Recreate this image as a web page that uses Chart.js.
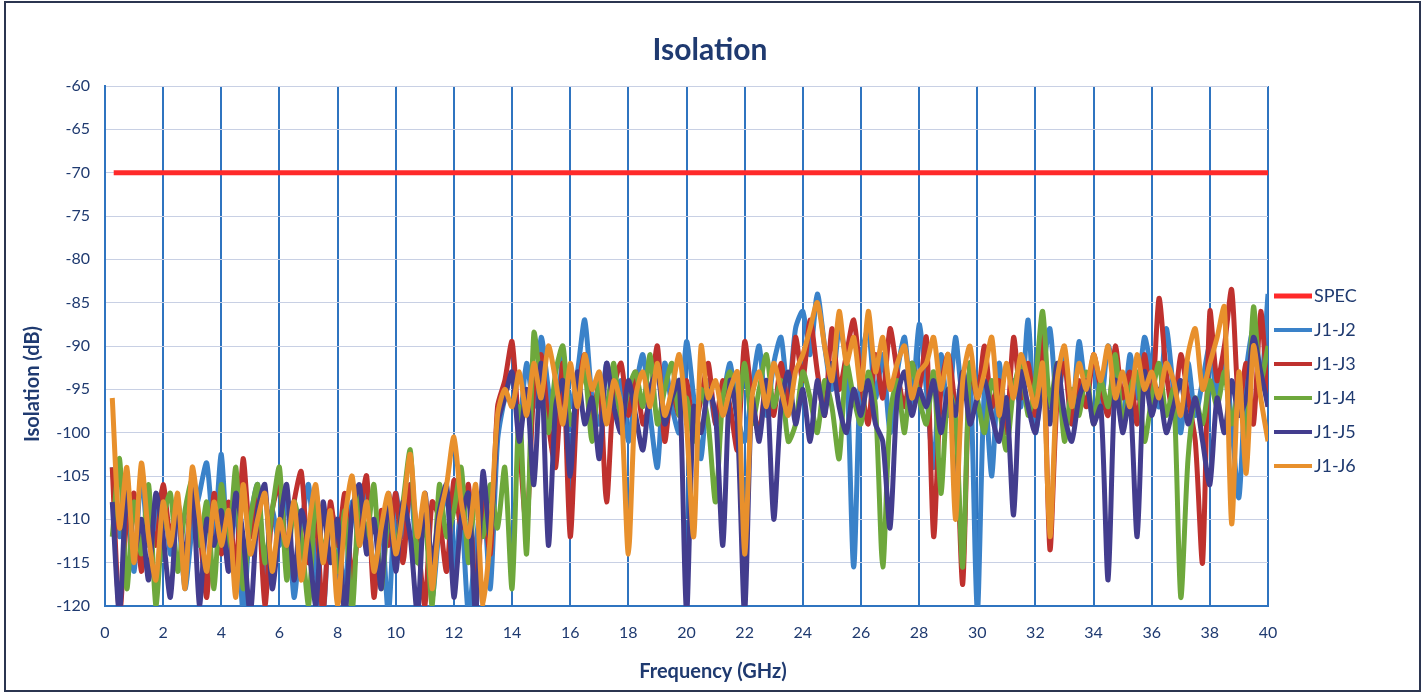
<!DOCTYPE html>
<html>
<head>
<meta charset="utf-8">
<script src="https://cdn.jsdelivr.net/npm/chart.js@4"></script>
<style>
  html, body { margin: 0; padding: 0; background: #fff; }
  #wrap { position: relative; width: 1425px; height: 695px; }
  #frame { position: absolute; left: 4px; top: 1px; width: 1413px; height: 687px; border: 2px solid #2b3550; pointer-events: none; }
</style>
</head>
<body>
<div id="wrap">
  <canvas id="isoChart" width="1425" height="695"></canvas>
  <div id="frame"></div>
</div>
<script>
// frequency grid, 0.25 GHz steps
const freq = [];
for (let i = 0; i < 160; i++) freq.push(0.25 + 0.25 * i);

const specLevel = -70;

const j1j2 = [
  -104, -112, -108, -116, -104.5, -113, -110, -106.5,
  -114, -109, -118, -111, -107, -103.5, -112, -102.5,
  -115, -108, -121, -110, -106, -117, -109, -113,
  -107, -119, -111, -106, -116, -121, -109, -112,
  -118, -108, -113, -106, -117, -110, -121, -107,
  -112, -106, -115, -108.5, -119, -111, -107, -116,
  -109, -121, -113, -107, -118, -101, -96, -93,
  -99, -92, -97, -89, -95, -100, -91, -97,
  -93, -87, -96, -99, -92, -97, -94, -101,
  -95, -91, -98, -104, -92, -97, -100, -89.5,
  -96, -103, -94, -99, -96, -92, -98, -101,
  -95, -90, -98, -92, -89, -96, -88, -86,
  -91, -84, -90, -95, -88, -92, -115.5, -92,
  -88, -96, -91, -100, -93, -89, -97, -87.5,
  -95, -104, -91, -98, -89, -96, -93, -121,
  -95, -105, -92, -99, -94, -97, -87, -100,
  -93, -88, -97, -91, -99, -89.5, -95, -92,
  -97, -90, -94, -99, -91, -96, -89, -93,
  -97, -88, -95, -100, -92, -98, -94, -90,
  -96, -91, -99, -107.5, -93, -88, -95, -84
];

const j1j3 = [
  -104, -121, -110, -107, -116, -109, -113, -106,
  -112, -108, -117, -106, -111, -119, -107, -114,
  -108, -116, -103, -112, -107, -120, -109, -106,
  -114, -108, -104.5, -115, -110, -121, -108, -113,
  -107, -117, -110, -105, -119, -109, -113, -107,
  -115, -106, -112, -120, -108, -110, -116, -105.5,
  -111, -106, -119, -108, -114, -97, -94, -89.5,
  -101, -111, -95, -91, -99, -104, -92, -112,
  -96, -91, -99, -94, -108, -95, -92, -98,
  -93, -99, -96, -90, -101, -95, -98, -94,
  -100, -96, -92, -99, -94, -97, -102, -89.5,
  -96, -100, -94, -98, -92, -97, -89, -94,
  -87, -93, -98, -88, -95, -91, -87, -94,
  -99, -91, -96, -88, -93, -97, -92, -95,
  -89, -112, -95, -91, -98, -117.5, -92, -96,
  -90, -97, -94, -100, -89, -96, -92, -98,
  -88, -113.5, -96, -92, -99, -94, -97, -91,
  -95, -98, -90, -96, -93, -99, -91, -97,
  -84.5, -93, -98, -91, -96, -101, -115, -86,
  -94, -90, -83.5, -97, -92, -99, -86, -97
];

const j1j4 = [
  -112, -103, -118, -108, -114, -106, -120, -110,
  -107, -116, -109, -105.5, -113, -108, -118, -106,
  -113, -104, -118, -110, -106, -115, -109, -104,
  -117, -108, -112, -120, -107, -114, -110, -116,
  -109, -121, -107, -112, -106, -118, -110, -113,
  -108, -102, -115, -110, -120, -106, -112, -109,
  -104, -115, -107, -112, -106, -111, -104, -118,
  -97, -114, -88.5, -95, -100, -93, -90, -99,
  -96, -93, -101, -94, -97, -92, -99, -95,
  -93, -97, -91, -99, -95, -92, -98, -96,
  -101, -95, -99, -108, -96, -93, -98, -92,
  -99, -95, -91, -97, -94, -101, -99, -93,
  -96, -100, -94, -97, -103, -92, -96, -99,
  -93, -97, -115.5, -98, -94, -100, -92, -96,
  -99, -93, -107, -95, -98, -115.5, -92, -96,
  -100, -94, -97, -102, -95, -92, -98, -94,
  -86, -97, -92, -101, -95, -98, -93, -99,
  -94, -97, -91, -99, -95, -93, -101, -96,
  -92, -98, -95, -119, -103, -96, -99, -94,
  -97, -93, -99, -95, -101, -85.5, -94, -90
];

const j1j5 = [
  -108, -121, -106, -114, -110, -117, -107, -112,
  -119, -108, -115, -106, -120, -110, -113, -109,
  -116, -107, -112, -121, -109, -106, -118, -111,
  -106, -117, -109, -113, -120, -108, -115, -110,
  -121, -109, -106, -114, -110, -118, -107, -116,
  -108, -112, -121, -107, -115, -109, -106, -119,
  -110, -107, -121, -104.5, -112, -99, -96, -93,
  -101, -95, -106, -92, -113, -97, -94, -105,
  -93, -99, -96, -103, -92, -97, -100, -94,
  -98, -102, -95, -93, -99, -96, -94, -121,
  -97, -100, -95, -98, -113, -94, -99, -121,
  -96, -101, -94, -110, -97, -93, -99, -95,
  -101, -94, -98, -92, -97, -100, -95, -98,
  -94, -99, -101, -111, -96, -93, -98, -95,
  -97, -94, -100, -95, -98, -93, -99, -96,
  -94, -98, -101, -96, -109.5, -93, -97, -100,
  -95, -99, -92, -98, -101, -96, -94, -99,
  -97, -117, -94, -100, -96, -112, -93, -98,
  -95, -100, -97, -94, -99, -96, -101, -106,
  -96, -100, -94, -98, -96, -89, -93, -97
];

const j1j6 = [
  -96, -111, -104, -115, -103.5, -112, -117, -108,
  -113, -107, -118, -104, -110, -116, -108, -113,
  -109, -119, -106, -114, -110, -107, -116, -110,
  -113, -108, -117, -111, -106, -115, -109, -120,
  -110, -105, -113, -108, -116, -111, -107, -114,
  -109, -102.5, -112, -107, -118, -110, -106, -100.5,
  -108, -112, -106, -120, -112, -98, -95, -97,
  -93, -98, -92, -96, -90, -94, -99, -92,
  -97, -91, -95, -93, -99, -94, -97, -114,
  -96, -93, -97, -92, -98, -95, -91, -99,
  -112, -90, -96, -94, -98, -95, -93, -114,
  -96, -93, -97, -92, -95, -98, -93, -91,
  -88, -85, -90, -94, -86, -92, -89, -95,
  -86, -93, -89, -95, -92, -90, -96, -93,
  -92, -89, -95, -91, -110, -94, -90, -96,
  -93, -89, -98, -92, -96, -91, -94, -97,
  -92, -112, -94, -90, -97, -92, -95, -91,
  -94, -90, -96, -93, -97, -91, -95, -93,
  -96, -92, -94, -98, -91, -88, -95, -92,
  -89, -85.5, -110.5, -93, -104.7, -90, -96, -101
];

const legendOrder = ["SPEC", "J1-J2", "J1-J3", "J1-J4", "J1-J5", "J1-J6"];

const navy = "#1f3a70";
const fontFam = "Lato, 'Open Sans', sans-serif";

function pts(vals) {
  return vals.map((v, i) => ({ x: freq[i], y: v }));
}

function series(label, vals, color) {
  return {
    label: label,
    data: pts(vals),
    borderColor: color,
    backgroundColor: color,
    borderWidth: 5,
    pointRadius: 0,
    tension: 0.25,
    clip: 0
  };
}

// titles and legend drawn by hand so they sit where the original has them
const decorations = {
  id: "decorations",
  afterDraw(chart) {
    const c = chart.ctx;
    const area = chart.chartArea;
    c.save();
    c.fillStyle = navy;
    c.textAlign = "center";
    c.textBaseline = "middle";

    c.font = "bold 30px " + fontFam;
    c.fillText("Isolation", 710, 50);

    c.font = "bold 20px " + fontFam;
    c.fillText("Frequency (GHz)", 713, 672);

    c.save();
    c.translate(33, 384);
    c.rotate(-Math.PI / 2);
    c.fillText("Isolation (dB)", 0, 0);
    c.restore();

    // legend
    const x0 = area.right + 6;
    let y = area.top + 210;
    c.font = "18px " + fontFam;
    c.textAlign = "left";
    legendOrder.forEach(name => {
      const ds = chart.data.datasets.find(d => d.label === name);
      c.strokeStyle = ds.borderColor;
      c.lineWidth = name === "SPEC" ? 5 : 4;
      c.beginPath();
      c.moveTo(x0, y);
      c.lineTo(x0 + 38, y);
      c.stroke();
      c.fillStyle = navy;
      c.fillText(name, x0 + 40, y);
      y += 34;
    });
    c.restore();
  }
};

const ctx = document.getElementById("isoChart").getContext("2d");

new Chart(ctx, {
  type: "line",
  data: {
    datasets: [
      series("J1-J6", j1j6, "#e8902c"),
      series("J1-J5", j1j5, "#433d8e"),
      series("J1-J4", j1j4, "#6ea83c"),
      series("J1-J3", j1j3, "#bf312e"),
      series("J1-J2", j1j2, "#3a82c9"),
      {
        label: "SPEC",
        data: [{ x: 0.3, y: specLevel }, { x: 40, y: specLevel }],
        borderColor: "#ff2a2a",
        backgroundColor: "#ff2a2a",
        borderWidth: 5,
        pointRadius: 0,
        clip: 0
      }
    ]
  },
  options: {
    responsive: false,
    animation: false,
    layout: { padding: { left: 0, right: 157, top: 86, bottom: 0 } },
    plugins: {
      legend: { display: false },
      tooltip: { enabled: false },
      title: { display: false }
    },
    scales: {
      x: {
        type: "linear",
        min: 0,
        max: 40,
        ticks: { stepSize: 2, color: navy, font: { family: fontFam, size: 16 }, padding: 17, maxRotation: 0 },
        grid: { color: "#2f74c0", lineWidth: 2, drawTicks: false },
        border: { color: "#2f74c0", width: 2 },
        afterFit: s => { s.height = 89; }
      },
      y: {
        min: -120,
        max: -60,
        ticks: { stepSize: 5, color: navy, font: { family: fontFam, size: 16 }, padding: 15 },
        grid: { color: "#c8d0e4", lineWidth: 1, drawTicks: false },
        border: { color: "#2f74c0", width: 2 },
        afterFit: s => { s.width = 105; }
      }
    }
  },
  plugins: [decorations]
});
</script>
</body>
</html>
